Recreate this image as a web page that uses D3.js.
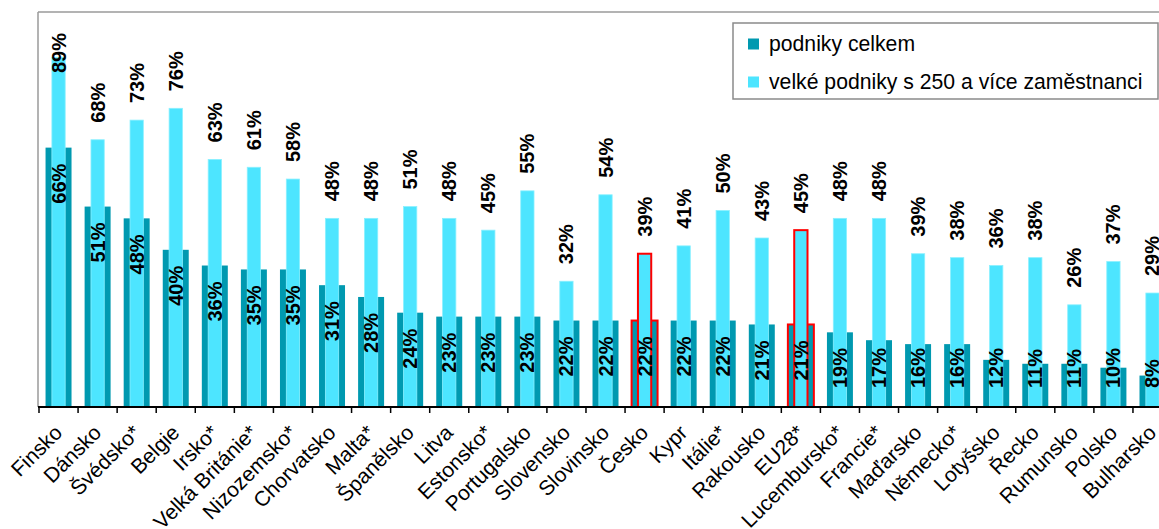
<!DOCTYPE html>
<html>
<head>
<meta charset="utf-8">
<script src="https://cdn.jsdelivr.net/npm/d3@7"></script>
<style>
  html, body { margin: 0; padding: 0; background: #ffffff; }
  svg { display: block; font-family: "Liberation Sans", Arial, sans-serif; }
</style>
</head>
<body>
<svg id="chart" width="1159" height="529"></svg>
<script>
const categories = ["Finsko", "Dánsko", "Švédsko*", "Belgie", "Irsko*", "Velká Británie*", "Nizozemsko*",
  "Chorvatsko", "Malta*", "Španělsko", "Litva", "Estonsko*", "Portugalsko", "Slovensko", "Slovinsko",
  "Česko", "Kypr", "Itálie*", "Rakousko", "EU28*", "Lucembursko*", "Francie*", "Maďarsko", "Německo*",
  "Lotyšsko", "Řecko", "Rumunsko", "Polsko", "Bulharsko"];
const totalValues = [66, 51, 48, 40, 36, 35, 35, 31, 28, 24, 23, 23, 23, 22, 22, 22, 22, 22, 21, 21, 19, 17, 16, 16, 12, 11, 11, 10, 8];
const largeValues = [89, 68, 73, 76, 63, 61, 58, 48, 48, 51, 48, 45, 55, 32, 54, 39, 41, 50, 43, 45, 48, 48, 39, 38, 36, 38, 26, 37, 29];
const highlighted = ["Česko", "EU28*"];
const seriesNames = ["podniky celkem", "velké podniky s 250 a více zaměstnanci"];

const darkColor = "#0099b0";
const lightColor = "#4de5ff";

const svg = d3.select("#chart");
const left = 39, step = 39.07, baseY = 407, topY = 14;
const x = d3.scaleBand().domain(categories).range([left, left + step * categories.length]).paddingInner(0).paddingOuter(0);
const y = d3.scaleLinear().domain([0, 100]).range([baseY, topY]);
const bw = x.bandwidth();
const darkW = bw * 0.665, lightW = bw * 0.34;

const rows = categories.map((c, i) => ({ c, t: totalValues[i], l: largeValues[i], hi: highlighted.includes(c) }));

// frame
svg.append("line").attr("x1", 38).attr("x2", 1159).attr("y1", 12).attr("y2", 12).attr("stroke", "#9a9a9a").attr("stroke-width", 1.5);
svg.append("line").attr("x1", 38).attr("x2", 38).attr("y1", 12).attr("y2", baseY).attr("stroke", "#9a9a9a").attr("stroke-width", 1.5);

// dark bars
svg.append("g").selectAll("rect").data(rows).join("rect")
  .attr("x", d => x(d.c) + (bw - darkW) / 2)
  .attr("width", darkW)
  .attr("y", d => y(d.t))
  .attr("height", d => y(0) - y(d.t))
  .attr("fill", darkColor)
  .attr("stroke", d => d.hi ? "#ff0000" : "none")
  .attr("stroke-width", 2);

// light bars
svg.append("g").selectAll("rect").data(rows).join("rect")
  .attr("x", d => x(d.c) + (bw - lightW) / 2)
  .attr("width", lightW)
  .attr("y", d => y(d.l))
  .attr("height", d => y(0) - y(d.l))
  .attr("fill", lightColor)
  .attr("stroke", d => d.hi ? "#ff0000" : "#8af0ff")
  .attr("stroke-width", d => d.hi ? 2 : 0.8);

// axis
const axisG = svg.append("g").attr("transform", `translate(0,${baseY})`)
  .call(d3.axisBottom(x).tickSize(0).tickSizeOuter(0));
axisG.select(".domain").attr("stroke", "#000").attr("stroke-width", 2).attr("d", `M38,0H1172`);
axisG.selectAll(".tick text")
  .attr("font-size", 21)
  .attr("fill", "#000")
  .attr("font-family", "Liberation Sans, Arial, sans-serif")
  .attr("text-anchor", "end")
  .attr("x", 0).attr("y", 0).attr("dy", 0)
  .attr("transform", "translate(5,27) rotate(-45)");
const boundaries = categories.map(c => x(c)).concat([x.range()[1]]);
axisG.append("g").selectAll("line").data(boundaries).join("line")
  .attr("x1", d => d).attr("x2", d => d)
  .attr("y1", 0).attr("y2", 6)
  .attr("stroke", "#000").attr("stroke-width", 1.5);

// labels for large companies (above light bars)
const lightLabels = svg.append("g").selectAll("text").data(rows).join("text")
  .text(d => d.l + "%")
  .attr("font-size", 20).attr("font-weight", "bold").attr("fill", "#000")
  .attr("text-anchor", "start").attr("dy", "0.35em");
lightLabels.each(function(d) {
  const len = this.getComputedTextLength();
  let ys = y(d.l) - 17;
  if (ys - len < 33) ys = 33 + len;
  const cx = x(d.c) + bw / 2;
  d3.select(this).attr("transform", `translate(${cx},${ys}) rotate(-90)`);
});

// labels for all companies (inside dark bars)
const darkLabels = svg.append("g").selectAll("text").data(rows).join("text")
  .text(d => d.t + "%")
  .attr("font-size", 20).attr("font-weight", "bold").attr("fill", "#000")
  .attr("text-anchor", "start").attr("dy", "0.35em");
darkLabels.each(function(d) {
  const len = this.getComputedTextLength();
  let ys = Math.min(y(d.t) + 16 + len, 388);
  const cx = x(d.c) + bw / 2;
  d3.select(this).attr("transform", `translate(${cx},${ys}) rotate(-90)`);
});

// legend
const lg = svg.append("g");
lg.append("rect").attr("x", 733).attr("y", 23).attr("width", 425).attr("height", 76)
  .attr("fill", "#fff").attr("stroke", "#8a8a8a").attr("stroke-width", 1.5);
const legendColors = [darkColor, lightColor];
seriesNames.forEach((name, i) => {
  const cy = 44 + i * 38;
  lg.append("rect").attr("x", 748).attr("y", cy - 5.5).attr("width", 11).attr("height", 11).attr("fill", legendColors[i]);
  lg.append("text").attr("x", 769).attr("y", cy + 7).attr("font-size", 21.2).attr("fill", "#000").text(name);
});
</script>
</body>
</html>
